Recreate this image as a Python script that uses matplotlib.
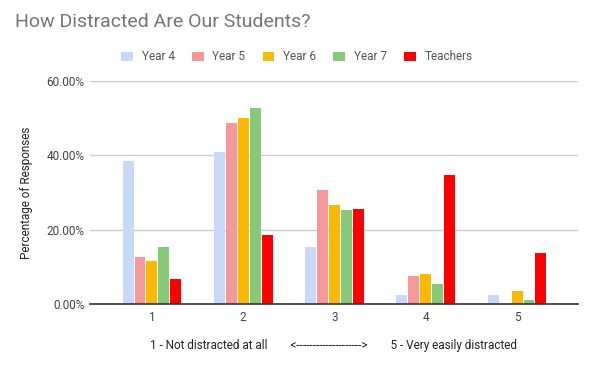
import numpy as np
import matplotlib.pyplot as plt
from matplotlib.ticker import FuncFormatter

plt.rcParams['font.family'] = ['Roboto', 'DejaVu Sans']

categories = ['1', '2', '3', '4', '5']
series_names = ['Year 4', 'Year 5', 'Year 6', 'Year 7', 'Teachers']
year4 = [38.5, 41.0, 15.4, 2.5, 2.5]
year5 = [12.6, 48.7, 30.7, 7.6, 0.0]
year6 = [11.6, 50.1, 26.7, 8.2, 3.6]
year7 = [15.4, 52.8, 25.4, 5.5, 1.2]
teachers = [6.8, 18.6, 25.6, 34.8, 13.8]
colors = ['#c9daf8', '#f4989a', '#fbb804', '#86c978', '#ff0000']

W, H = 594, 369
fig = plt.figure(figsize=(W / 100, H / 100), dpi=100)
ax = fig.add_axes([90 / W, (H - 304) / H, 488 / W, (304 - 81) / H])

x = np.arange(1, len(categories) + 1)
slot = 0.131
width = 0.12
for i, (name, vals) in enumerate(zip(series_names, [year4, year5, year6, year7, teachers])):
    ax.bar(x + (i - 2) * slot, vals, width, color=colors[i], label=name, zorder=3)

ax.set_xlim(1 - 62 / 91.3, 5 + 61 / 91.3)
ax.set_ylim(0, 60)
ax.set_yticks([0, 20, 40, 60])
ax.yaxis.set_major_formatter(FuncFormatter(lambda v, p: f'{v:.2f}%'))
ax.set_xticks(x)
ax.set_xticklabels(categories)
ax.grid(axis='y', color='#cccccc', linewidth=1, zorder=0)
ax.set_axisbelow(True)
for s in ['top', 'right', 'left']:
    ax.spines[s].set_visible(False)
ax.spines['bottom'].set_color('#333333')
ax.spines['bottom'].set_linewidth(1.2)
ax.spines['bottom'].set_zorder(4)
ax.tick_params(axis='both', length=0, labelsize=8.5, colors='#444444', pad=5)
ax.tick_params(axis='y', pad=4)

ax.set_ylabel('Percentage of Responses', fontsize=8.5, color='#222222', labelpad=10)
ax.set_xlabel('1 - Not distracted at all        <-------------------->        5 - Very easily distracted',
              fontsize=8.5, color='#222222', labelpad=11)

fig.text(15 / W, 1 - 27 / H, 'How Distracted Are Our Students?', fontsize=14,
         color='#757575', va='baseline', ha='left')

fig.legend(loc='center', bbox_to_anchor=(0.5, 1 - 57 / H), ncol=5, frameon=False,
           fontsize=8.5, handlelength=1.0, handleheight=0.8, columnspacing=1.45,
           handletextpad=0.75, labelcolor='#555555')

fig.savefig('out.png', dpi=100)
